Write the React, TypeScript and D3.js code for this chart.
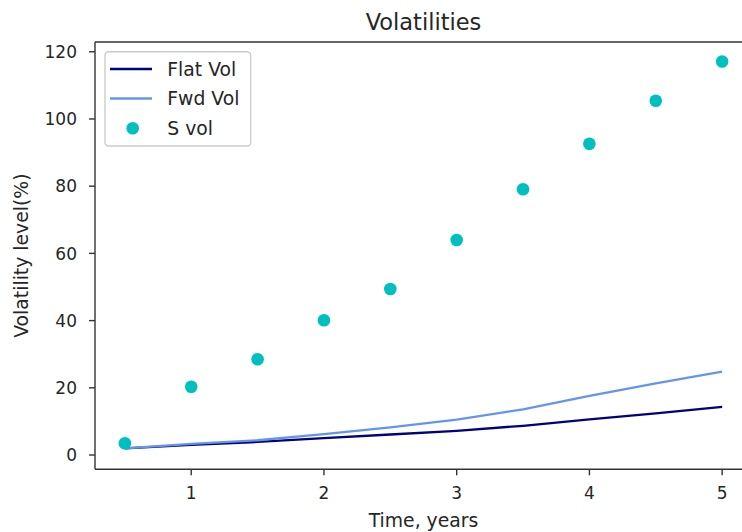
import React from "react";
import * as d3 from "d3";

const times = [0.5, 1, 1.5, 2, 2.5, 3, 3.5, 4, 4.5, 5];
const flatVol = [2.0, 3.0, 3.9, 5.0, 6.1, 7.2, 8.7, 10.6, 12.4, 14.3];
const fwdVol = [2.0, 3.3, 4.4, 6.2, 8.2, 10.5, 13.6, 17.6, 21.3, 24.8];
const sVol = [3.5, 20.3, 28.5, 40.1, 49.4, 64.0, 79.1, 92.6, 105.4, 117.1];
const xTicks = [1, 2, 3, 4, 5];
const yTicks = [0, 20, 40, 60, 80, 100, 120];
const legendLabels = ["Flat Vol", "Fwd Vol", "S vol"];

const W = 742;
const H = 532;
const left = 95;
const right = 752;
const top = 42;
const bottom = 469.3;
const font = "'DejaVu Sans', sans-serif";
const textColor = "#262626";

export default function App() {
  const x = d3.scaleLinear().domain([0.275, 5.225]).range([left, right]);
  const y = d3.scaleLinear().domain([-4.25, 122.9]).range([bottom, top]);
  const line = d3
    .line<[number, number]>()
    .x((d) => x(d[0]))
    .y((d) => y(d[1]));
  const flatPts = times.map((t, i) => [t, flatVol[i]] as [number, number]);
  const fwdPts = times.map((t, i) => [t, fwdVol[i]] as [number, number]);
  const cx = (left + right) / 2;
  const cy = (top + bottom) / 2;
  const legRows = [69, 98.5, 128.3];

  return (
    <svg
      width={W}
      height={H}
      style={{ position: "absolute", left: 0, top: 0, background: "#fff" }}
      fontFamily={font}
    >
      <defs>
        <clipPath id="plot">
          <rect x={left} y={top} width={right - left} height={bottom - top} />
        </clipPath>
      </defs>
      <rect x={0} y={0} width={W} height={H} fill="#fff" />
      <g clipPath="url(#plot)">
        <path d={line(flatPts) || ""} fill="none" stroke="#000080" strokeWidth={2.3} />
        <path d={line(fwdPts) || ""} fill="none" stroke="#6495ED" strokeWidth={2.3} />
        {times.map((t, i) => (
          <circle key={i} cx={x(t)} cy={y(sVol[i])} r={6.3} fill="#00BFBF" />
        ))}
      </g>
      {/* spines */}
      <line x1={left} x2={left} y1={top} y2={bottom} stroke="#333" strokeWidth={1.4} />
      <line x1={left} x2={W} y1={bottom} y2={bottom} stroke="#333" strokeWidth={1.4} />
      <line x1={left} x2={W} y1={top} y2={top} stroke="#333" strokeWidth={1.4} />
      {/* x ticks */}
      {xTicks.map((t) => (
        <g key={t}>
          <line x1={x(t)} x2={x(t)} y1={bottom} y2={bottom + 6} stroke="#333" strokeWidth={1.4} />
          <text x={x(t)} y={499} textAnchor="middle" fontSize={17} fill={textColor}>
            {t}
          </text>
        </g>
      ))}
      {/* y ticks */}
      {yTicks.map((t) => (
        <g key={t}>
          <line x1={left - 6} x2={left} y1={y(t)} y2={y(t)} stroke="#333" strokeWidth={1.4} />
          <text
            x={77}
            y={y(t)}
            dy="0.36em"
            textAnchor="end"
            fontSize={17}
            fill={textColor}
          >
            {t}
          </text>
        </g>
      ))}
      {/* title & labels */}
      <text x={cx} y={30} textAnchor="middle" fontSize={22.5} fill={textColor}>
        Volatilities
      </text>
      <text x={cx} y={527} textAnchor="middle" fontSize={18.8} fill={textColor}>
        Time, years
      </text>
      <text
        transform={`translate(28,${cy}) rotate(-90)`}
        textAnchor="middle"
        fontSize={18.8}
        fill={textColor}
      >
        Volatility level(%)
      </text>
      {/* legend */}
      <rect
        x={105}
        y={51.7}
        width={145.7}
        height={94.3}
        rx={3.5}
        fill="#fff"
        fillOpacity={0.8}
        stroke="#cccccc"
        strokeWidth={1.4}
      />
      <line x1={110} x2={152} y1={legRows[0]} y2={legRows[0]} stroke="#000080" strokeWidth={2.3} />
      <line x1={110} x2={152} y1={legRows[1]} y2={legRows[1]} stroke="#6495ED" strokeWidth={2.3} />
      <circle cx={132.7} cy={legRows[2]} r={6.3} fill="#00BFBF" />
      {legendLabels.map((l, i) => (
        <text key={l} x={167.3} y={legRows[i]} dy="0.36em" fontSize={18.8} fill={textColor}>
          {l}
        </text>
      ))}
    </svg>
  );
}
